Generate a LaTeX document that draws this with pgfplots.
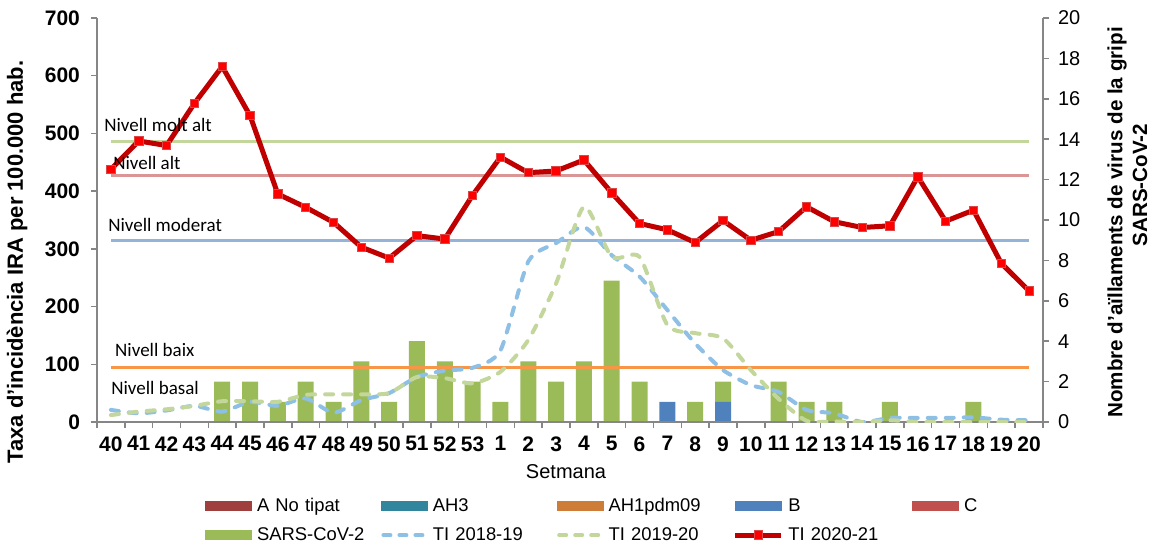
\documentclass[border=0pt]{standalone}
\usepackage{pgfplots}
\usepackage{pgfplotstable}
\pgfplotsset{compat=1.18}
\usepackage{fontspec}
\setmainfont{Liberation Sans}
\newfontfamily\calibri{Carlito}
\definecolor{axgray}{RGB}{134,134,134}
\definecolor{cANT}{RGB}{160,64,62}
\definecolor{cAH3}{RGB}{49,133,156}
\definecolor{cAH1}{RGB}{205,125,55}
\definecolor{cB}{RGB}{79,129,189}
\definecolor{cC}{RGB}{192,80,77}
\definecolor{cSARS}{RGB}{155,187,89}
\definecolor{cT18}{RGB}{142,192,230}
\definecolor{cT19}{RGB}{195,214,155}
\definecolor{cT20}{RGB}{192,0,0}
\definecolor{cMark}{RGB}{255,0,0}
\definecolor{cMarkD}{RGB}{220,70,70}
\definecolor{cMolt}{RGB}{195,214,155}
\definecolor{cAlt}{RGB}{217,150,148}
\definecolor{cMod}{RGB}{149,179,215}
\definecolor{cBaix}{RGB}{247,150,70}

\pgfplotstableread{
i ti21 ti18 ti19 sars b
0 438 21 12 0 0
1 487 15 18 0 0
2 479 20 22 0 0
3 552 28 28 0 0
4 616 18 36 2 0
5 531 35 36 2 0
6 395 28 35 1 0
7 372 41 47 2 0
8 346 16 48 1 0
9 303 38 48 3 0
10 284 50 50 1 0
11 323 78 78 4 0
12 317 89 76 3 0
13 393 94 67 2 0
14 459 124 87 1 0
15 432 278 142 3 0
16 435 310 240 2 0
17 454 338 373 3 0
18 397 289 286 7 0
19 344 252 286 2 0
20 333 194 168 0 1
21 311 136 154 1 0
22 349 90 145 1 1
23 315 64 90 0 0
24 330 52 40 2 0
25 373 21 2 1 0
26 347 15 1 1 0
27 337 0 0 0 0
28 340 7 3 1 0
29 425 7 0 0 0
30 348 7 0 0 0
31 367 8 0 1 0
32 275 4 0 0 0
33 227 3 0 0 0
}\data

\begin{document}
\begin{tikzpicture}
\path[use as bounding box] (0pt,0pt) rectangle (578pt,-273pt);
% right axis: bars
\begin{axis}[
  at={(48.5pt,-211pt)}, anchor=south west,
  scale only axis, width=473pt, height=202pt,
  xmin=-0.5, xmax=33.5, ymin=0, ymax=20,
  axis x line=none, axis y line*=right,
  axis line style={axgray, line width=0.75pt, -},
  ytick={0,2,...,20},
  tick align=outside, major tick length=3pt,
  tick style={axgray, line width=0.75pt},
  /pgf/number format/assume math mode=true,
  yticklabel style={font=\fontsize{10}{12}\selectfont, xshift=1pt},
  ybar stacked, bar width=8pt,
]
\addplot[fill=cB, draw=none] table[x=i,y=b]{\data};
\addplot[fill=cSARS, draw=none] table[x=i,y=sars]{\data};
\end{axis}
% left axis: lines
\begin{axis}[
  at={(48.5pt,-211pt)}, anchor=south west,
  scale only axis, width=473pt, height=202pt,
  xmin=-0.5, xmax=33.5, ymin=0, ymax=700,
  axis x line*=bottom, axis y line*=left,
  axis line style={axgray, line width=0.75pt, -},
  xtick={0,...,33},
  xticklabels={40,41,42,43,44,45,46,47,48,49,50,51,52,53,1,2,3,4,5,6,7,8,9,10,11,12,13,14,15,16,17,18,19,20},
  minor xtick={-0.5,0.5,...,33.5},
  major x tick style={draw=none},
  ytick={0,100,...,700},
  tick align=outside, major tick length=3pt, minor tick length=3pt,
  tick style={axgray, line width=0.75pt},
  /pgf/number format/assume math mode=true,
  xticklabel style={font=\bfseries\fontsize{10.5}{12}\selectfont, inner sep=0pt, yshift=-4pt},
  yticklabel style={font=\bfseries\fontsize{10.5}{12}\selectfont, xshift=-2pt},
  legend columns=5,
  legend style={at={(0.114,-0.185)}, anchor=north west, draw=none, fill=none,
    inner sep=0pt, font=\fontsize{9.2}{11}\selectfont,
    nodes={inner sep=0pt, text width=62pt, align=left, text height=7pt, text depth=2pt},
    row sep=5.5pt,
    /tikz/every odd column/.append style={column sep=2.5pt}},
]
\addlegendimage{legend image code/.code={\fill[cANT] (0pt,-2.3pt) rectangle (23pt,2.3pt);}}
\addlegendentry{A No tipat}
\addlegendimage{legend image code/.code={\fill[cAH3] (0pt,-2.3pt) rectangle (23pt,2.3pt);}}
\addlegendentry{AH3}
\addlegendimage{legend image code/.code={\fill[cAH1] (0pt,-2.3pt) rectangle (23pt,2.3pt);}}
\addlegendentry{AH1pdm09}
\addlegendimage{legend image code/.code={\fill[cB] (0pt,-2.3pt) rectangle (23pt,2.3pt);}}
\addlegendentry{B}
\addlegendimage{legend image code/.code={\fill[cC] (0pt,-2.3pt) rectangle (23pt,2.3pt);}}
\addlegendentry{C}
\addlegendimage{legend image code/.code={\fill[cSARS] (0pt,-2.3pt) rectangle (23pt,2.3pt);}}
\addlegendentry{SARS-CoV-2}
\addlegendimage{legend image code/.code={\draw[cT18, line width=2pt, dash pattern=on 3.5pt off 4.5pt, line cap=round] (1pt,0pt) -- (22pt,0pt);}}
\addlegendentry{TI 2018-19}
\addlegendimage{legend image code/.code={\draw[cT19, line width=2pt, dash pattern=on 3.5pt off 4.5pt, line cap=round] (1pt,0pt) -- (22pt,0pt);}}
\addlegendentry{TI 2019-20}
\addlegendimage{legend image code/.code={\draw[cT20, line width=2.4pt] (0pt,0pt) -- (23pt,0pt); \fill[cMark, draw=cMarkD, line width=0.4pt] (9.5pt,-2.2pt) rectangle (13.5pt,2.2pt);}}
\addlegendentry{TI 2020-21}
% thresholds
\addplot[forget plot, cMolt, line width=1.6pt] coordinates {(0,486) (33,486)};
\addplot[forget plot, cAlt, line width=1.6pt] coordinates {(0,427) (33,427)};
\addplot[forget plot, cMod, line width=1.6pt] coordinates {(0,314) (33,314)};
\addplot[forget plot, cBaix, line width=1.6pt] coordinates {(0,95) (33,95)};
% historical
\addplot[forget plot, cT18, line width=2pt, dash pattern=on 4pt off 5pt, line cap=round, smooth, tension=0.4] table[x=i,y=ti18]{\data};
\addplot[forget plot, cT19, line width=2pt, dash pattern=on 4pt off 5pt, line cap=round, smooth, tension=0.4] table[x=i,y=ti19]{\data};
% current season
\addplot[forget plot, cT20, line width=2.5pt, mark=square*, mark size=2.1pt, mark options={fill=cMark, draw=cMarkD, line width=0.4pt}] table[x=i,y=ti21]{\data};
% level labels
\begin{scope}[every node/.style={font=\calibri\fontsize{9.5}{11}\selectfont, inner sep=0pt, anchor=base west}]
\node at (axis cs:-0.25,503) {Nivell molt alt};
\node at (axis cs:0.07,437) {Nivell alt};
\node at (axis cs:-0.11,330) {Nivell moderat};
\node at (axis cs:0.14,114) {Nivell baix};
\node at (axis cs:0,48) {Nivell basal};
\end{scope}
\end{axis}
% axis titles
\node[rotate=90, font=\bfseries\fontsize{11}{13}\selectfont, inner sep=0pt] at (17*0.5pt,-262*0.5pt) {Taxa d'incidència IRA per 100.000 hab.};
\node[rotate=90, font=\bfseries\fontsize{10.3}{12}\selectfont, inner sep=0pt, anchor=west] at (1117*0.5pt,-418*0.5pt) {Nombre d'aïllaments de virus de la gripi};
\node[rotate=90, font=\bfseries\fontsize{10.3}{12}\selectfont, inner sep=0pt] at (1140*0.5pt,-185*0.5pt) {SARS-CoV-2};
\node[font=\fontsize{10}{12}\selectfont, inner sep=0pt] at (566*0.5pt,-472*0.5pt) {Setmana};
\end{tikzpicture}
\end{document}
